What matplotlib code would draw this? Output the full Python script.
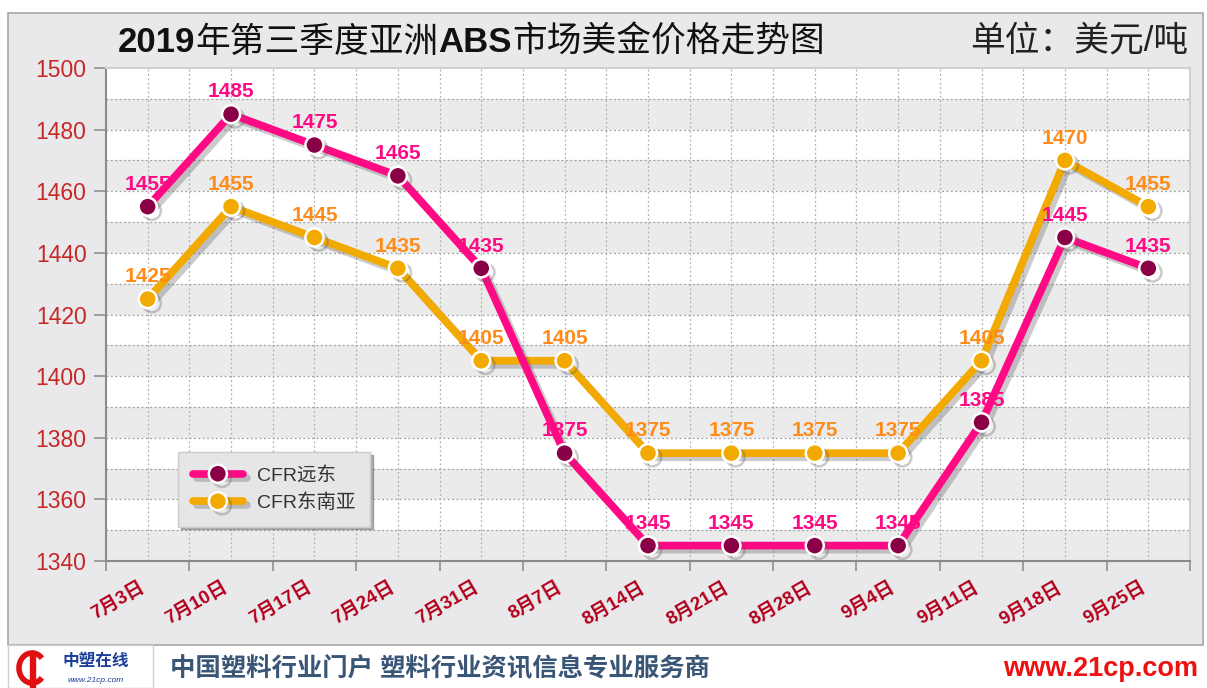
import numpy as np
import matplotlib.pyplot as plt
import matplotlib.patheffects as pe
from matplotlib.patches import Rectangle, Arc

plt.rcParams['font.family'] = ['Liberation Sans', 'Noto Sans CJK SC', 'DejaVu Sans']

dates = ['7月3日', '7月10日', '7月17日', '7月24日', '7月31日', '8月7日', '8月14日',
         '8月21日', '8月28日', '9月4日', '9月11日', '9月18日', '9月25日']
cfr_fe = [1455, 1485, 1475, 1465, 1435, 1375, 1345, 1345, 1345, 1345, 1385, 1445, 1435]
cfr_sea = [1425, 1455, 1445, 1435, 1405, 1405, 1375, 1375, 1375, 1375, 1405, 1470, 1455]
names = ['CFR远东', 'CFR东南亚']

pink = '#ff0a84'
maroon = '#8a0046'
gold = '#f2a900'
orange_txt = '#ff8c1a'
panel = '#e9e9ec'

fig = plt.figure(figsize=(12.07, 6.88), dpi=100)
fig.patch.set_facecolor('white')

# outer gray panel and footer
fig.patches.append(Rectangle((8 / 1207, 1 - 645 / 688), 1195 / 1207, 632 / 688,
                             transform=fig.transFigure, facecolor=panel,
                             edgecolor='#a8a8a8', lw=1.2, zorder=-2))
fig.patches.append(Rectangle((8 / 1207, 0), 145 / 1207, 43 / 688,
                             transform=fig.transFigure, facecolor='white',
                             edgecolor='#d0d0d0', lw=1, zorder=-2))

ax = fig.add_axes([106 / 1207, 1 - 561 / 688, 1084 / 1207, 493 / 688])
ax.set_facecolor('white')

x = np.arange(len(dates))

# alternating bands
for lo in range(1340, 1500, 20):
    ax.axhspan(lo, lo + 10, color='#ebebeb', zorder=0, lw=0)
for yv in range(1350, 1500, 10):
    ax.axhline(yv, color='#a0a0a0', lw=0.9, ls=(0, (1.5, 2)), zorder=1)
for xv in np.arange(-0.5, 12.6, 0.5)[1:-1]:
    ax.axvline(xv, color='#b0b0b0', lw=0.9, ls=(0, (1.5, 2)), zorder=1)

shadow = [pe.SimpleLineShadow(offset=(3, -3), shadow_color='#555555', alpha=0.3),
          pe.Normal()]

ax.plot(x, cfr_fe, color=pink, lw=5.5, marker='o', ms=13, mfc=maroon, mec='white',
        mew=1.8, zorder=4, path_effects=shadow, label=names[0], solid_capstyle='round')
ax.plot(x, cfr_sea, color=gold, lw=5.5, marker='o', ms=13, mfc=gold, mec='white',
        mew=1.8, zorder=3, path_effects=shadow, label=names[1], solid_capstyle='round')

for xi, v in zip(x, cfr_fe):
    ax.annotate(str(v), (xi, v), xytext=(0, 16), textcoords='offset points',
                ha='center', va='center', color=pink, fontsize=15, fontweight='bold', zorder=6)
for xi, v in zip(x, cfr_sea):
    ax.annotate(str(v), (xi, v), xytext=(0, 16), textcoords='offset points',
                ha='center', va='center', color=orange_txt, fontsize=15, fontweight='bold', zorder=6)

ax.set_xlim(-0.5, 12.5)
ax.set_ylim(1340, 1500)
ax.set_yticks(range(1340, 1501, 20))
ax.tick_params(axis='y', labelsize=16.5, labelcolor='#c62828', color='#909090', length=9, width=1.2, pad=5)
ax.set_xticks(np.arange(-0.5, 12.6, 1))
ax.set_xticklabels([])
ax.tick_params(axis='x', color='#909090', length=7, width=1.2, direction='out')
for xi, d in zip(x, dates):
    ax.annotate(d, (xi, 1340), xytext=(0, -13), textcoords='offset points',
                ha='right', va='top', rotation=30, color='#b3001b', fontsize=13.5,
                fontweight='bold', annotation_clip=False)

for s in ['left', 'bottom']:
    ax.spines[s].set_color('#8a8a8a')
    ax.spines[s].set_linewidth(1.5)
for s in ['top', 'right']:
    ax.spines[s].set_color('#d0d0d0')
    ax.spines[s].set_linewidth(1.5)

leg = ax.legend(loc='upper left', bbox_to_anchor=(72 / 1084, 109 / 493), borderaxespad=0,
                fontsize=14, frameon=True, fancybox=False,
                shadow={'color': '#555555', 'alpha': 0.45},
                facecolor='#e6e6e6', edgecolor='#cccccc', framealpha=1,
                handlelength=2.6, handletextpad=0.7, borderpad=0.75, labelspacing=0.45)
for t in leg.get_texts():
    t.set_color('#333333')
leg.set_zorder(10)

# title pieces, placed one after another
ty = 1 - 42 / 688
pieces = [('2019', 'bold'), ('年第三季度亚洲', 'medium'), ('ABS', 'bold'), ('市场美金价格走势图', 'medium')]
fig.canvas.draw()
r = fig.canvas.get_renderer()
xpos = 118 / 1207
for s, w in pieces:
    t = fig.text(xpos, ty, s, fontsize=25, fontweight=w, va='center', color='#111111')
    xpos = t.get_window_extent(r).x1 / fig.bbox.width
fig.text(1188 / 1207, ty, '单位：美元/吨', fontsize=25, ha='right', va='center',
         color='#222222')

# footer
fig.text(170 / 1207, 1 - 669 / 688, '中国塑料行业门户 塑料行业资讯信息专业服务商', fontsize=18.3,
         fontweight='bold', color='#3a5676', va='center')
fig.text(1198 / 1207, 1 - 669 / 688, 'www.21cp.com', fontsize=19.5, fontweight='bold',
         color='#ee1111', ha='right', va='center')
fig.patches.append(Arc((32 / 1207, 1 - 668 / 688), 26 / 1207, 30 / 688, theta1=60, theta2=300,
                       transform=fig.transFigure, color='#e01010', lw=4))
fig.patches.append(Rectangle((30 / 1207, 1 - 687 / 688), 5 / 1207, 36 / 688,
                             transform=fig.transFigure, color='#e01010'))
fig.text(96 / 1207, 1 - 661 / 688, '中塑在线', fontsize=12, fontweight='bold', style='italic',
         color='#1c3f9a', ha='center', va='center')
fig.text(96 / 1207, 1 - 680 / 688, 'www.21cp.com', fontsize=6, style='italic',
         color='#1c3f9a', ha='center', va='center')

fig.savefig('out.png', dpi=100)
